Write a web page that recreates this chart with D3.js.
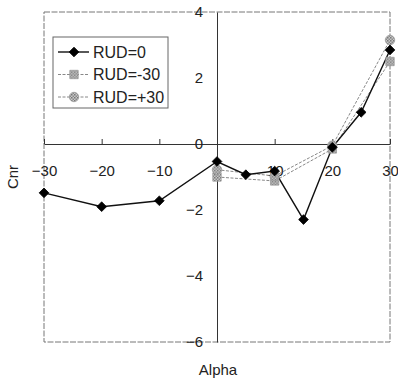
<!DOCTYPE html>
<html><head><meta charset="utf-8">
<script src="https://cdn.jsdelivr.net/npm/d3@7"></script>
<style>body{margin:0;background:#fff}svg{display:block}text{font-family:"Liberation Sans",Arial,sans-serif}</style>
</head><body><svg id="c" width="398" height="379"></svg>
<script>
const alphaRud0 = [-30, -20, -10, 0, 5, 10, 15, 20, 25, 30];
const cnrRud0 = [-1.48, -1.9, -1.72, -0.53, -0.93, -0.82, -2.29, -0.1, 0.96, 2.85];
const alphaRudPM = [0, 10, 20, 30];
const cnrRudM30 = [-1.0, -1.12, -0.15, 2.5];
const cnrRudP30 = [-0.78, -0.97, -0.05, 3.15];
const seriesNames = ["RUD=0", "RUD=-30", "RUD=+30"];
const xTicks = [-30, -20, -10, 10, 20, 30];
const yTicks = [-6, -4, -2, 0, 2, 4];

const svg = d3.select("#c");
const x = d3.scaleLinear().domain([-30, 30]).range([44, 390]);
const y = d3.scaleLinear().domain([-6, 4]).range([342, 12]);

const defs = svg.append("defs");
const pat = defs.append("pattern").attr("id","hatch").attr("width",3).attr("height",3).attr("patternUnits","userSpaceOnUse");
pat.append("rect").attr("width",3).attr("height",3).attr("fill","#c8c8c8");
pat.append("rect").attr("width",1.5).attr("height",1.5).attr("fill","#777");
pat.append("rect").attr("x",1.5).attr("y",1.5).attr("width",1.5).attr("height",1.5).attr("fill","#888");

// plot border
svg.append("rect").attr("x", x(-30)).attr("y", y(4)).attr("width", x(30)-x(-30)).attr("height", y(-6)-y(4))
  .attr("fill","none").attr("stroke","#777").attr("stroke-width",1).attr("stroke-dasharray","6,1.5");

// x axis at y=0
const xa = svg.append("g").attr("transform", `translate(0,${y(0)})`)
  .call(d3.axisBottom(x).tickValues(xTicks).tickSizeInner(-5).tickSizeOuter(0).tickPadding(21));
xa.select(".domain").attr("stroke","#333");
xa.selectAll(".tick line").attr("stroke","#333");
xa.selectAll("text").attr("font-size",15).attr("fill","#222").style("font-family","Liberation Sans, Arial, sans-serif");

// y axis at x=0
const ya = svg.append("g").attr("transform", `translate(${x(0)},0)`)
  .call(d3.axisLeft(y).tickValues(yTicks).tickSize(0).tickPadding(14));
ya.select(".domain").attr("stroke","#333");
ya.selectAll("text").attr("font-size",15).attr("fill","#222").style("font-family","Liberation Sans, Arial, sans-serif");

const line = d3.line().x(d => x(d[0])).y(d => y(d[1]));
const d0 = alphaRud0.map((a,i) => [a, cnrRud0[i]]);
const dm = alphaRudPM.map((a,i) => [a, cnrRudM30[i]]);
const dp = alphaRudPM.map((a,i) => [a, cnrRudP30[i]]);

function greyLine(data){
  svg.append("path").datum(data).attr("d", line).attr("fill","none")
    .attr("stroke","#888").attr("stroke-width",1).attr("stroke-dasharray","3,1.5");
}
greyLine(dm); greyLine(dp);
svg.append("path").datum(d0).attr("d", line).attr("fill","none").attr("stroke","#111").attr("stroke-width",1.4);

const diamond = d3.symbol().type(d3.symbolDiamond2 || d3.symbolDiamond).size(60);
const square = d3.symbol().type(d3.symbolSquare).size(70);
const circle = d3.symbol().type(d3.symbolCircle).size(70);

function markers(data, sym, fill, stroke){
  svg.append("g").selectAll("path").data(data).join("path")
    .attr("transform", d => `translate(${x(d[0])},${y(d[1])})`)
    .attr("d", sym).attr("fill", fill).attr("stroke", stroke).attr("stroke-width",0.8);
}
markers(dm, square, "url(#hatch)", "#999");
markers(dp, circle, "url(#hatch)", "#999");
markers(d0, diamond, "#000", "#000");

// legend
const lg = svg.append("g");
lg.append("rect").attr("x",53).attr("y",37).attr("width",115).attr("height",71)
  .attr("fill","#fff").attr("stroke","#666").attr("stroke-width",1);
const legendItems = [
  {name: seriesNames[0], sym: diamond, fill:"#000", stroke:"#000", lc:"#111", dash:null, lw:1.4},
  {name: seriesNames[1], sym: square, fill:"url(#hatch)", stroke:"#999", lc:"#888", dash:"3,1.5", lw:1},
  {name: seriesNames[2], sym: circle, fill:"url(#hatch)", stroke:"#999", lc:"#888", dash:"3,1.5", lw:1}
];
legendItems.forEach((it,i) => {
  const yy = 52 + i*22.5;
  lg.append("line").attr("x1",58).attr("x2",89).attr("y1",yy).attr("y2",yy)
    .attr("stroke",it.lc).attr("stroke-width",it.lw).attr("stroke-dasharray",it.dash);
  lg.append("path").attr("transform",`translate(74,${yy})`).attr("d",it.sym)
    .attr("fill",it.fill).attr("stroke",it.stroke).attr("stroke-width",0.8);
  lg.append("text").attr("x",93).attr("y",yy).attr("dy","0.35em").attr("font-size",16).attr("fill","#222").text(it.name);
});

// axis titles
svg.append("text").attr("transform","translate(18,177) rotate(-90)").attr("text-anchor","middle")
  .attr("font-size",15).attr("fill","#222").text("Cnr");
svg.append("text").attr("x",218).attr("y",375).attr("text-anchor","middle")
  .attr("font-size",15).attr("fill","#222").text("Alpha");
</script></body></html>
